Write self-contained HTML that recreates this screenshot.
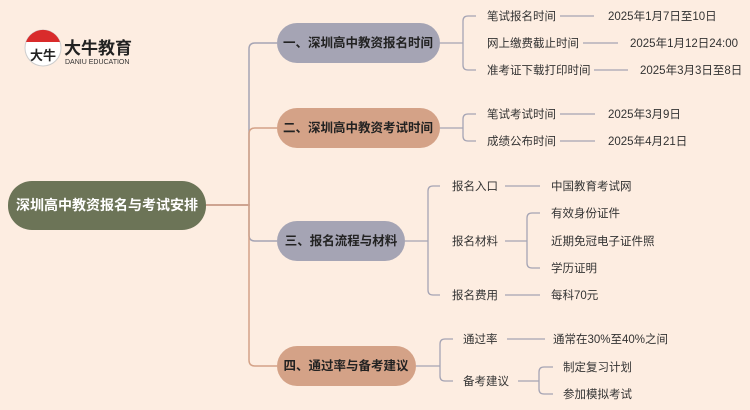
<!DOCTYPE html>
<html><head><meta charset="utf-8"><style>
html,body{margin:0;padding:0;background:#fdede1;}
svg{display:block}
text{font-family:"Liberation Sans","Noto Sans CJK SC",sans-serif;}
.l{font-size:11.5px;fill:#333;}
.b{font-size:12.5px;font-weight:bold;fill:#222;}
</style></head><body>
<svg width="750" height="410" viewBox="0 0 750 410" xmlns="http://www.w3.org/2000/svg">
<rect width="750" height="410" fill="#fdede1"/>
<circle cx="43" cy="48" r="18" fill="#fff" stroke="#ccc"/>
<path d="M26,42 A18,18 0 0 1 60,42 Z" fill="#d92b2b"/>
<text x="30" y="60" font-size="13" font-weight="bold" fill="#222">大牛</text>
<text x="64" y="54" font-size="17" font-weight="bold" fill="#222">大牛教育</text>
<text x="65" y="64" font-size="7" fill="#333">DANIU EDUCATION</text>
<g fill="none" stroke-width="1.5">
<path d="M206,205 H249 V49 Q249,43 255,43 H277" stroke="#a5a4b4"/>
<path d="M206,205 H249 V134 Q249,128 255,128 H277" stroke="#d4a287"/>
<path d="M206,205 H249 V235 Q249,241 255,241 H277" stroke="#a5a4b4"/>
<path d="M206,205 H249 V360 Q249,366 255,366 H277" stroke="#d4a287"/>
</g>
<rect x="8" y="181" width="198" height="49" rx="24" fill="#6c7457"/>
<text x="107" y="210" text-anchor="middle" font-size="14" font-weight="bold" fill="#fff">深圳高中教资报名与考试安排</text>
<rect x="277" y="23" width="163" height="40" rx="20" fill="#a5a4b4"/>
<text x="358" y="47" text-anchor="middle" class="b">一、深圳高中教资报名时间</text>
<rect x="277" y="108" width="163" height="40" rx="20" fill="#d4a287"/>
<text x="358" y="132" text-anchor="middle" class="b">二、深圳高中教资考试时间</text>
<rect x="277" y="221" width="128" height="40" rx="20" fill="#a5a4b4"/>
<text x="341" y="245" text-anchor="middle" class="b">三、报名流程与材料</text>
<rect x="277" y="346" width="139" height="40" rx="20" fill="#d4a287"/>
<text x="346" y="370" text-anchor="middle" class="b">四、通过率与备考建议</text>
<g fill="none" stroke="#a5a4b4" stroke-width="1.3">
<path d="M440,43 H463 M476,16 H468 Q463,16 463,21 V65 Q463,70 468,70 H476"/>
<path d="M560,16 H594 M583,43 H618 M594,70 H628"/>
<path d="M440,128 H463 M476,114 H468 Q463,114 463,119 V136 Q463,141 468,141 H476"/>
<path d="M560,114 H595 M560,141 H595"/>
<path d="M405,241 H428 M440,186 H433 Q428,186 428,191 V290 Q428,295 433,295 H440"/>
<path d="M505,186 H540 M505,295 H540 M505,241 H527 M540,213 H532 Q527,213 527,218 V263 Q527,268 532,268 H540"/>
<path d="M416,366 H440 M453,339 H445 Q440,339 440,344 V376 Q440,381 445,381 H453"/>
<path d="M507,339 H545 M518,381 H539 M553,367 H544 Q539,367 539,372 V389 Q539,394 544,394 H553"/>
</g>
<g class="l">
<text x="487" y="20">笔试报名时间</text><text x="608" y="20">2025年1月7日至10日</text>
<text x="487" y="47">网上缴费截止时间</text><text x="630" y="47">2025年1月12日24:00</text>
<text x="487" y="74">准考证下载打印时间</text><text x="640" y="74">2025年3月3日至8日</text>
<text x="487" y="118">笔试考试时间</text><text x="608" y="118">2025年3月9日</text>
<text x="487" y="145">成绩公布时间</text><text x="608" y="145">2025年4月21日</text>
<text x="452" y="190">报名入口</text><text x="551" y="190">中国教育考试网</text>
<text x="452" y="245">报名材料</text>
<text x="551" y="217">有效身份证件</text><text x="551" y="245">近期免冠电子证件照</text><text x="551" y="272">学历证明</text>
<text x="452" y="299">报名费用</text><text x="551" y="299">每科70元</text>
<text x="463" y="343">通过率</text><text x="553" y="343">通常在30%至40%之间</text>
<text x="463" y="385">备考建议</text>
<text x="563" y="371">制定复习计划</text><text x="563" y="398">参加模拟考试</text>
</g>
</svg>
</body></html>
